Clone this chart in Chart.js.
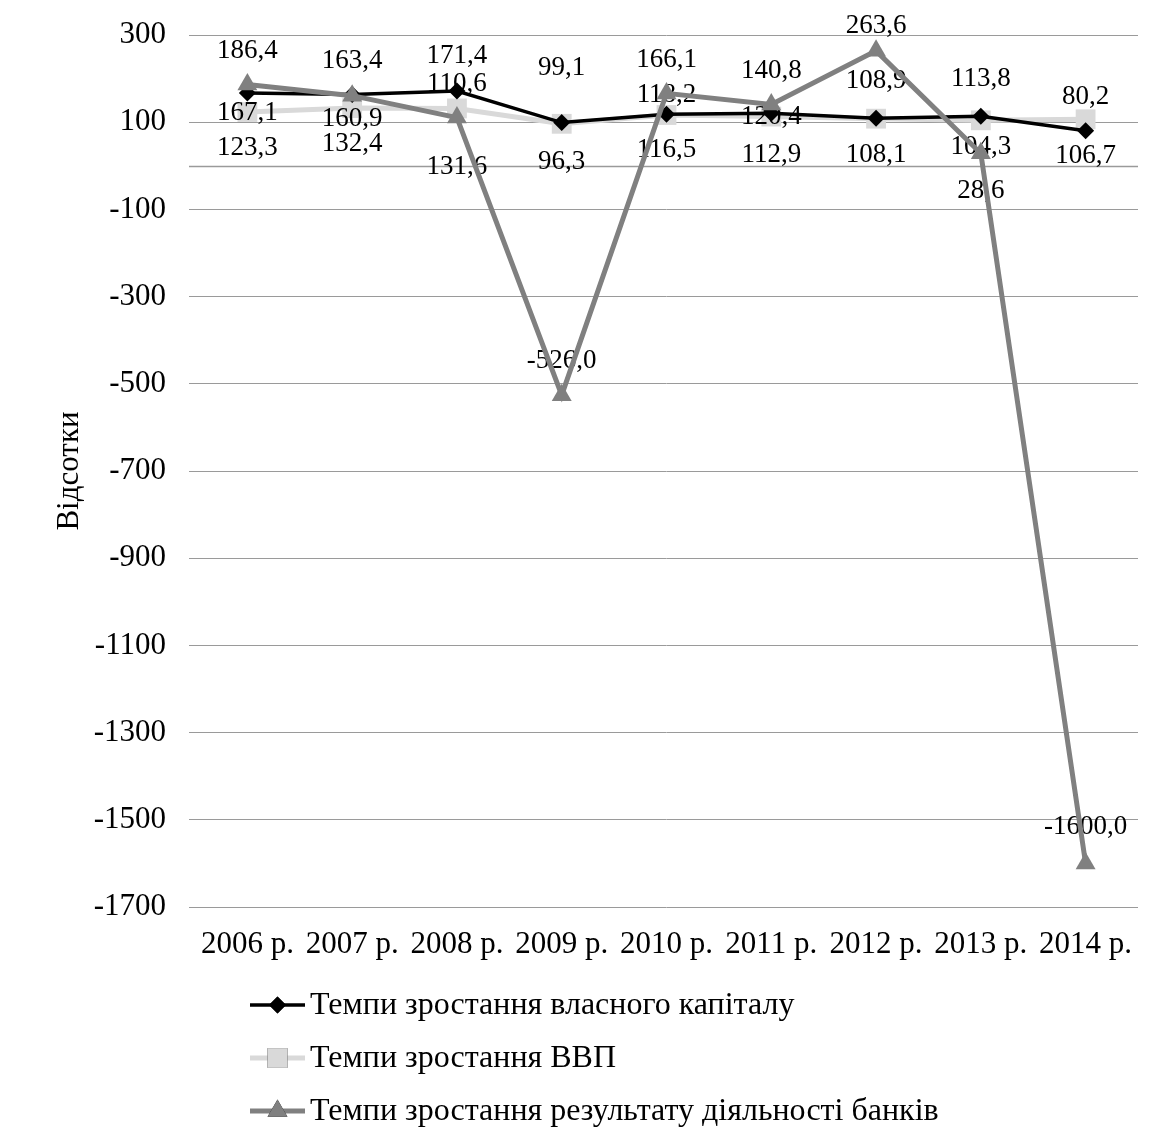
<!DOCTYPE html>
<html lang="uk">
<head>
<meta charset="utf-8">
<title>Темпи зростання</title>
<script src="https://cdn.jsdelivr.net/npm/chart.js@4.4.1/dist/chart.umd.min.js"></script>
<style>
  html, body { margin: 0; padding: 0; background: #ffffff; }
  #wrap { width: 1155px; height: 1128px; }
</style>
</head>
<body>
<div id="wrap"><canvas id="chart" width="1155" height="1128"></canvas></div>
<script>
// Years on the category axis
const categories = ['2006 р.', '2007 р.', '2008 р.', '2009 р.', '2010 р.', '2011 р.', '2012 р.', '2013 р.', '2014 р.'];

// Growth rates, %
const equityGrowth  = [167.1, 163.4, 171.4, 99.1, 118.2, 120.4, 108.9, 113.8, 80.2];
const gdpGrowth     = [123.3, 132.4, 131.6, 96.3, 116.5, 112.9, 108.1, 104.3, 106.7];
const resultsGrowth = [186.4, 160.9, 110.6, -526.0, 166.1, 140.8, 263.6, 28.6, -1600.0];

// Value axis
const yMin = -1700;
const yMax = 300;
const yStep = 200;

const seriesNames = [
  'Темпи зростання власного капіталу',
  'Темпи зростання ВВП',
  'Темпи зростання результату діяльності банків'
];

const FONT = "'Liberation Serif', 'Times New Roman', serif";

// Vertical nudges (px) of each value label relative to its point
const labelShift = [
  [20, -34, -35, -55, -19, 4, -37, -37, -34],
  [36, 36, 58, 38, 35, 38, 36, 27, 37],
  [-34, 23, -34, -34, -33, -34, -25, 38, -36]
];

const fmt = v => v.toFixed(1).replace('.', ',');

// Value labels: painted right after the ВВП series, so the two darker
// series are drawn over them
const valueLabels = {
  id: 'valueLabels',
  afterDatasetDraw(chart, args) {
    if (args.index !== 1) return;
    const ctx = chart.ctx;
    ctx.save();
    ctx.font = '27px ' + FONT;
    ctx.fillStyle = '#000000';
    ctx.textAlign = 'center';
    ctx.textBaseline = 'middle';
    chart.data.datasets.forEach((ds, di) => {
      const meta = chart.getDatasetMeta(di);
      meta.data.forEach((pt, i) => {
        ctx.fillText(fmt(ds.data[i]), pt.x, pt.y + labelShift[di][i]);
      });
    });
    ctx.restore();
  }
};

// Horizontal axis line at zero
const zeroLine = {
  id: 'zeroLine',
  beforeDatasetsDraw(chart) {
    const { ctx, chartArea, scales } = chart;
    const y = Math.round(scales.y.getPixelForValue(0)) + 0.5;
    ctx.save();
    ctx.strokeStyle = '#9a9a9a';
    ctx.lineWidth = 1.6;
    ctx.beginPath();
    ctx.moveTo(chartArea.left - 6, y);
    ctx.lineTo(chartArea.right, y);
    ctx.stroke();
    ctx.restore();
  }
};

// Legend stacked under the axis: line sample with marker, then name
const stackedLegend = {
  id: 'stackedLegend',
  afterDraw(chart) {
    const ctx = chart.ctx;
    const x0 = 250, x1 = 305, textX = 310;
    const rows = [1005, 1058, 1111];
    ctx.save();
    chart.data.datasets.forEach((ds, di) => {
      const y = rows[di];
      ctx.strokeStyle = ds.borderColor;
      ctx.lineWidth = ds.borderWidth;
      ctx.beginPath();
      ctx.moveTo(x0, y);
      ctx.lineTo(x1, y);
      ctx.stroke();
      Chart.helpers.drawPoint(ctx, {
        pointStyle: ds.pointStyle,
        radius: ds.pointRadius,
        rotation: 0,
        borderWidth: 0
      }, (x0 + x1) / 2, y);
      ctx.fillStyle = ds.pointBackgroundColor;
      ctx.fill();
      ctx.fillStyle = '#000000';
      ctx.font = '32px ' + FONT;
      ctx.textAlign = 'left';
      ctx.textBaseline = 'middle';
      ctx.fillText(seriesNames[di], textX, y + 1);
    });
    ctx.restore();
  }
};

new Chart(document.getElementById('chart'), {
  type: 'line',
  data: {
    labels: categories,
    datasets: [
      {
        label: seriesNames[0],
        data: equityGrowth,
        borderColor: '#000000',
        backgroundColor: '#000000',
        borderWidth: 3.5,
        pointStyle: 'rectRot',
        pointRadius: 8.5,
        pointBackgroundColor: '#000000',
        pointBorderWidth: 0,
        tension: 0,
        order: 1
      },
      {
        label: seriesNames[1],
        data: gdpGrowth,
        borderColor: '#d9d9d9',
        backgroundColor: '#d9d9d9',
        borderWidth: 5,
        pointStyle: 'rect',
        pointRadius: 14,
        pointBackgroundColor: '#d9d9d9',
        pointBorderWidth: 0,
        tension: 0,
        order: 2
      },
      {
        label: seriesNames[2],
        data: resultsGrowth,
        borderColor: '#808080',
        backgroundColor: '#808080',
        borderWidth: 5,
        pointStyle: 'triangle',
        pointRadius: 11.5,
        pointBackgroundColor: '#808080',
        pointBorderWidth: 0,
        tension: 0,
        order: 0
      }
    ]
  },
  options: {
    responsive: false,
    animation: false,
    devicePixelRatio: 1,
    layout: { padding: { top: 35, right: 17, bottom: 160, left: 0 } },
    plugins: {
      legend: { display: false },
      tooltip: { enabled: false }
    },
    scales: {
      x: {
        type: 'category',
        offset: true,
        grid: { display: false, drawTicks: false },
        border: { display: false },
        ticks: {
          color: '#000000',
          font: { family: FONT, size: 31 },
          padding: 19,
          maxRotation: 0,
          autoSkip: false
        },
        afterFit(scale) { scale.height = 61; }
      },
      y: {
        min: yMin,
        max: yMax,
        border: { display: false },
        grid: { color: '#9a9a9a', lineWidth: 1, tickLength: 6, drawTicks: true },
        ticks: {
          stepSize: yStep,
          color: '#000000',
          font: { family: FONT, size: 31 },
          padding: 23,
          callback: v => String(v)
        },
        title: {
          display: true,
          text: 'Відсотки',
          color: '#000000',
          font: { family: FONT, size: 31 },
          padding: { top: 51, bottom: 0 }
        },
        afterFit(scale) {
          scale.width = 195;
          scale.paddingTop = 0;
          scale.paddingBottom = 0;
        }
      }
    }
  },
  plugins: [zeroLine, valueLabels, stackedLegend]
});
</script>
</body>
</html>
